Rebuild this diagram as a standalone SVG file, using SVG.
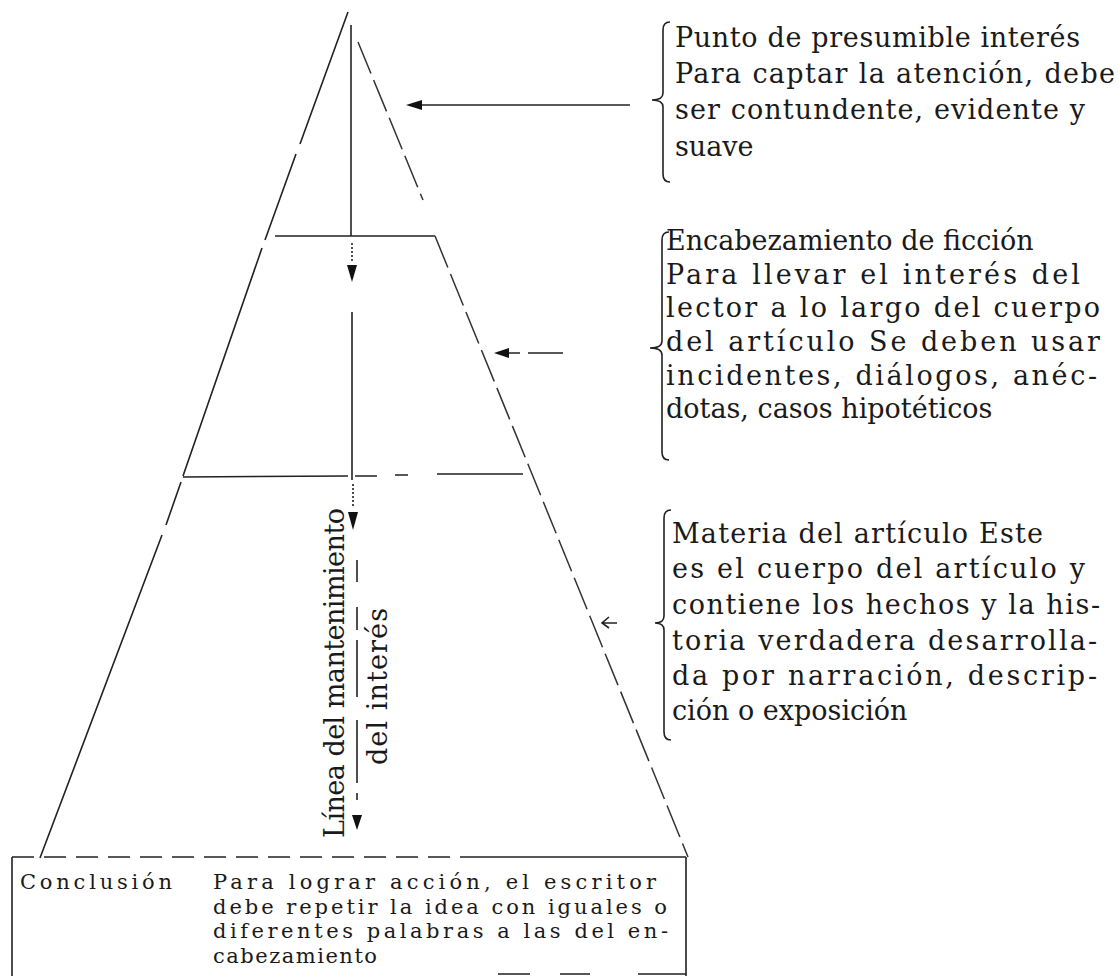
<svg xmlns="http://www.w3.org/2000/svg" width="1118" height="976" viewBox="0 0 1118 976">
<defs>
<style>
.ln{stroke:#222;stroke-width:1.6;fill:none}
.dl{stroke:#333;stroke-width:1.5;fill:none;stroke-dasharray:34 7}
.br{stroke:#222;stroke-width:1.6;fill:none}
.t{font-family:"DejaVu Serif","Liberation Serif",serif;font-size:27px;fill:#1a1a1a}
.tv{font-family:"DejaVu Serif","Liberation Serif",serif;font-size:27px;fill:#1a1a1a}
.tb{font-family:"DejaVu Serif","Liberation Serif",serif;font-size:21px;fill:#1a1a1a}
.ah{fill:#111}
</style>
</defs>
<rect width="1118" height="976" fill="#fff"/>
<g id="pyramid">
<path class="ln" d="M348 12 L300 144 M296 154 L265 240 M262 248 L183 476 M181 482 L166 525 M162 535 L40 858"/>
<path class="dl" d="M358 42 L423 200"/>
<path class="ln" d="M275 236 L435 236"/>
<path class="dl" d="M435 236 L688 857"/>
<path class="ln" d="M183 477 L348 476 M355 476 L377 476 M395 475 L408 475 M437 474 L523 474"/>
</g>
<g id="connectors">
<path class="ln" d="M351 25 L351 236"/>
<path class="ln" stroke-dasharray="2 2" d="M352 243 L352 262"/>
<polygon class="ah" points="347,265 357,265 352,282"/>
<path class="ln" d="M352 312 L352 480"/>
<path class="ln" stroke-dasharray="2 2" d="M353 484 L353 508"/>
<polygon class="ah" points="348,512 358,512 353,530"/>
<path class="ln" d="M357 560 L357 582 M357 607 L357 630 M357 640 L357 697 M357 720 L357 783 M357 793 L357 800"/>
<polygon class="ah" points="352,815 362,815 357,830"/>
<path class="ln" d="M420 105 L630 105"/>
<polygon class="ah" points="406,105 422,100 422,110"/>
<path class="ln" d="M505 353 L520 353 M528 353 L563 353"/>
<polygon class="ah" points="494,353 509,348 509,358"/>
<path class="ln" d="M602 623 L617 623 M609 617 L602 623 L609 628"/>
</g>
<g id="block1">
<path class="br" d="M670 22 Q663 22 663 30 L663 93 Q663 100 652 100 Q663 100 663 107 L663 174 Q663 182 670 182"/>
<text class="t" x="675" y="47" textLength="405">Punto de presumible interés</text>
<text class="t" x="675" y="83" textLength="440">Para captar la atención, debe</text>
<text class="t" x="675" y="119" textLength="410">ser contundente, evidente y</text>
<text class="t" x="675" y="156">suave</text>
</g>
<g id="block2">
<path class="br" d="M669 232 Q662 232 662 240 L662 341 Q662 348 650 348 Q662 348 662 355 L662 452 Q662 460 669 460"/>
<text class="t" x="666" y="250">Encabezamiento de ficción</text>
<text class="t" x="666" y="284" textLength="414">Para llevar el interés del</text>
<text class="t" x="666" y="317" textLength="434">lector a lo largo del cuerpo</text>
<text class="t" x="666" y="351" textLength="434">del artículo  Se deben usar</text>
<text class="t" x="666" y="385" textLength="431">incidentes, diálogos, anéc-</text>
<text class="t" x="666" y="418">dotas, casos hipotéticos</text>
</g>
<g id="block3">
<path class="br" d="M671 510 Q664 510 664 518 L664 616 Q664 623 655 623 Q664 623 664 630 L664 732 Q664 740 671 740"/>
<text class="t" x="672" y="543" textLength="371">Materia del artículo  Este</text>
<text class="t" x="672" y="578" textLength="413">es el cuerpo del artículo y</text>
<text class="t" x="672" y="614" textLength="428">contiene los hechos y la his-</text>
<text class="t" x="672" y="650" textLength="425">toria verdadera desarrolla-</text>
<text class="t" x="672" y="685" textLength="425">da por narración, descrip-</text>
<text class="t" x="672" y="720">ción o exposición</text>
</g>
<g id="axis-label">
<text class="tv" transform="translate(344,838) rotate(-90)" textLength="330">Línea del mantenimiento</text>
<text class="tv" transform="translate(387,765) rotate(-90)" textLength="157">del interés</text>
</g>
<g id="conclusion">
<path class="ln" stroke-dasharray="22 10" d="M12 857 L470 857"/>
<path class="ln" d="M470 857 L686 857 M686 857 L686 976 M12 857 L12 976"/>
<path class="ln" d="M498 974 L530 974 M560 974 L590 974 M638 974 L686 974"/>
<text class="tb" x="20" y="889" textLength="152">Conclusión</text>
<text class="tb" x="213" y="889" textLength="443">Para lograr acción, el escritor</text>
<text class="tb" x="213" y="913.5" textLength="454">debe repetir la idea con iguales o</text>
<text class="tb" x="213" y="938" textLength="455">diferentes palabras a las del en-</text>
<text class="tb" x="213" y="962.5" textLength="164">cabezamiento</text>
</g>
</svg>
